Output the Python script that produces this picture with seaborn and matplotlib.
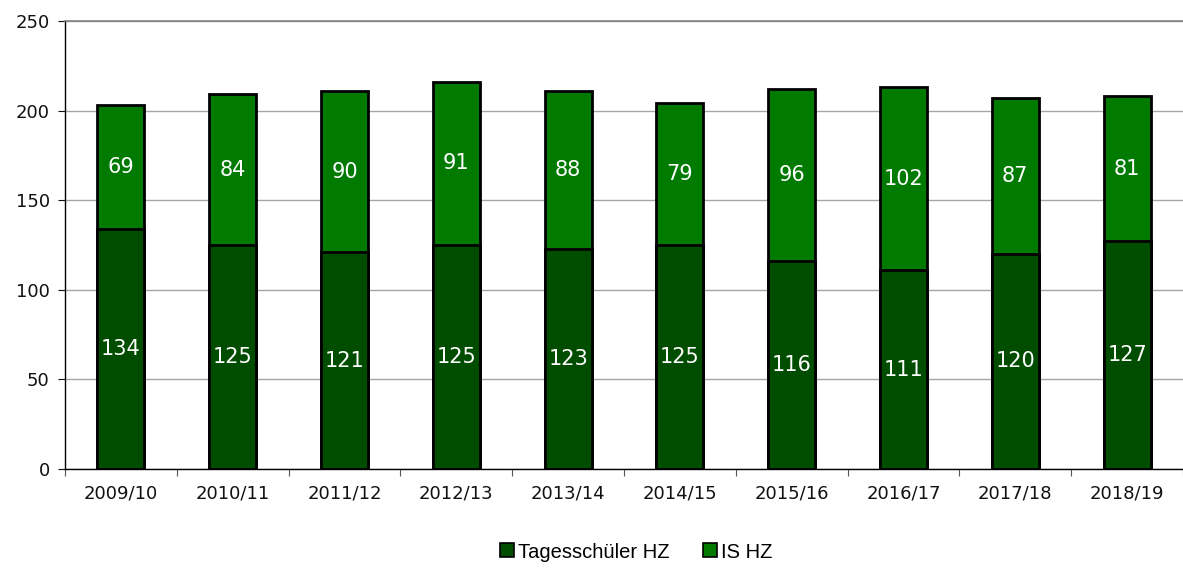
import numpy as np
import pandas as pd
import seaborn as sns
import matplotlib.pyplot as plt
from matplotlib.lines import Line2D

years = ["2009/10", "2010/11", "2011/12", "2012/13", "2013/14",
         "2014/15", "2015/16", "2016/17", "2017/18", "2018/19"]
tages_hz = [134, 125, 121, 125, 123, 125, 116, 111, 120, 127]
is_hz = [69, 84, 90, 91, 88, 79, 96, 102, 87, 81]

dark_green = "#004d00"
green = "#007a00"

sns.set_style("white")
plt.rcParams["font.family"] = ["DejaVu Sans"]

df = pd.DataFrame({"year": years, "tages": tages_hz, "is": is_hz})
df["total"] = df["tages"] + df["is"]

fig = plt.figure(figsize=(11.83, 5.69), dpi=100)
ax = fig.add_axes([65 / 1183, 1 - 469 / 569, 1 - 65 / 1183, (469 - 21) / 569])

# stacked: total drawn first, lower segment on top of it
sns.barplot(data=df, x="year", y="total", color=green, width=0.42,
            edgecolor="black", linewidth=2.0, saturation=1, ax=ax)
sns.barplot(data=df, x="year", y="tages", color=dark_green, width=0.42,
            edgecolor="black", linewidth=2.0, saturation=1, ax=ax)

for i, row in df.iterrows():
    ax.text(i, row["tages"] / 2, str(row["tages"]), ha="center", va="center",
            color="white", fontsize=15)
    ax.text(i, row["tages"] + row["is"] / 2, str(row["is"]), ha="center",
            va="center", color="white", fontsize=15)

ax.set_ylim(0, 250)
ax.set_xlim(-0.5, len(years) - 0.5)
ax.set_yticks(range(0, 251, 50))
ax.yaxis.grid(True, color="#a6a6a6", linewidth=1.0)
ax.set_axisbelow(True)
ax.set_xlabel("")
ax.set_ylabel("")

ax.spines["right"].set_visible(False)
ax.spines["top"].set_color("#808080")
ax.spines["top"].set_linewidth(1.2)
for s in ["left", "bottom"]:
    ax.spines[s].set_color("black")
    ax.spines[s].set_linewidth(1.0)

ax.tick_params(axis="y", left=True, length=5, width=0.8, labelsize=13,
               colors="#111111", pad=6)
ax.tick_params(axis="x", bottom=False, labelsize=13, colors="#111111", pad=8)
ax.set_xticks(np.arange(-0.5, len(years), 1.0), minor=True)
ax.tick_params(axis="x", which="minor", bottom=True, length=5, width=0.8,
               color="#555555")

handles = [
    Line2D([], [], marker="s", linestyle="none", markersize=10,
           markerfacecolor=dark_green, markeredgecolor="black",
           markeredgewidth=1.2, label="Tagesschüler HZ"),
    Line2D([], [], marker="s", linestyle="none", markersize=10,
           markerfacecolor=green, markeredgecolor="black",
           markeredgewidth=1.2, label="IS HZ"),
]
leg = fig.legend(handles=handles, loc="center", ncol=2, frameon=False,
                 bbox_to_anchor=(636 / 1183, 1 - 552 / 569),
                 prop={"family": "Liberation Sans", "size": 14.5},
                 handlelength=0.8, handletextpad=0.15, columnspacing=1.6)
for t in leg.get_texts():
    t.set_color("black")

fig.savefig("out.png", dpi=100)
